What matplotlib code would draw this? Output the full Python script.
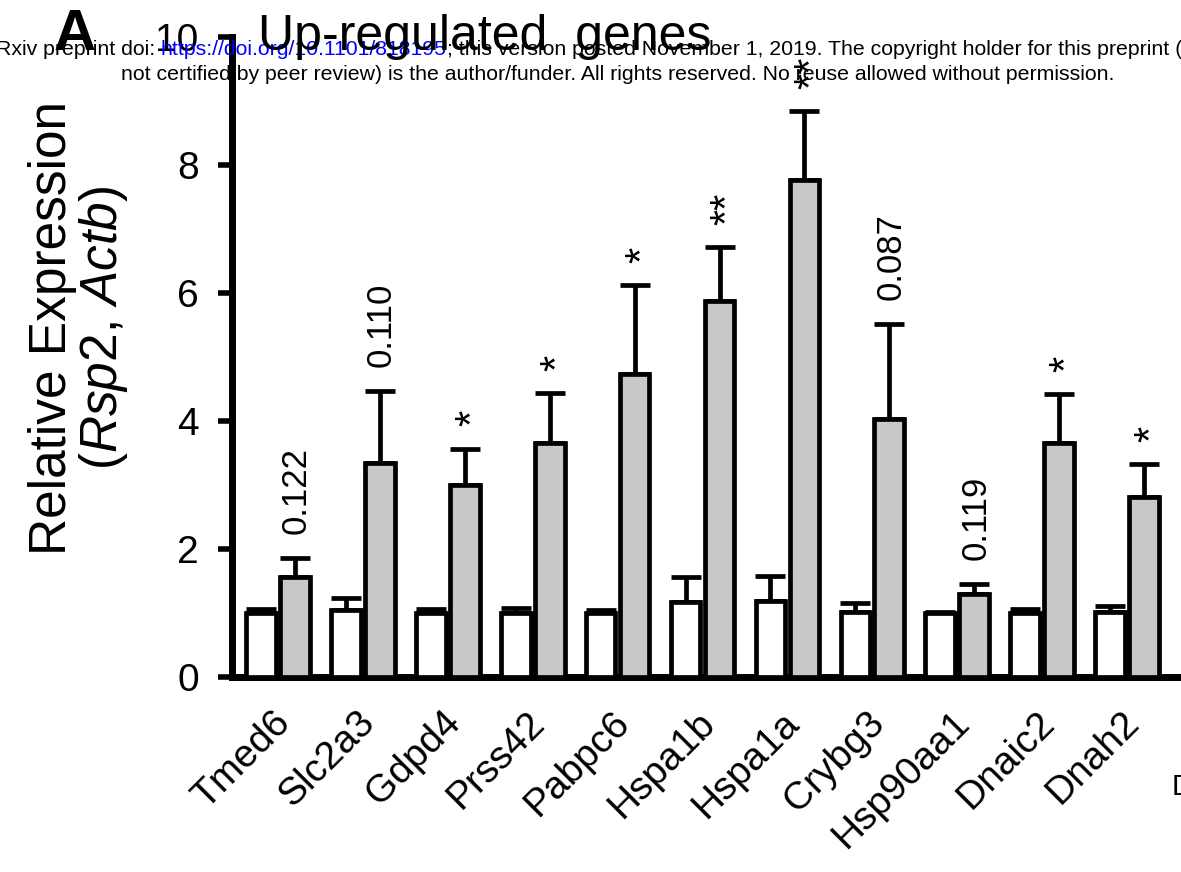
import matplotlib
matplotlib.use("Agg")
import matplotlib.pyplot as plt
import numpy as np

plt.rcParams['font.family'] = ['Liberation Sans', 'DejaVu Sans']
plt.rcParams['mathtext.fontset'] = 'custom'
plt.rcParams['mathtext.rm'] = 'Liberation Sans'
plt.rcParams['mathtext.it'] = 'Liberation Sans:italic'

# values
genes = ['Tmed6', 'Slc2a3', 'Gdpd4', 'Prss42', 'Pabpc6', 'Hspa1b',
         'Hspa1a', 'Crybg3', 'Hsp90aa1', 'Dnaic2', 'Dnah2']
ctrl = [1.00, 1.05, 1.00, 1.00, 1.00, 1.17, 1.18, 1.02, 1.00, 1.00, 1.01]
ctrl_err = [0.07, 0.18, 0.07, 0.08, 0.05, 0.40, 0.40, 0.13, 0.01, 0.07, 0.10]
treat = [1.57, 3.35, 3.00, 3.65, 4.74, 5.87, 7.76, 4.03, 1.30, 3.66, 2.81]
treat_err = [0.29, 1.12, 0.57, 0.78, 1.38, 0.85, 1.08, 1.49, 0.16, 0.76, 0.52]
sig = ['0.122', '0.110', '*', '*', '*', '**', '**', '0.087', '0.119', '*', '*']

W, H = 1181, 872
fig = plt.figure(figsize=(W / 100, H / 100), dpi=100)
ax = fig.add_axes([232 / W, 195 / H, 1 - 232 / W + 0.01, 640 / H])

x = np.arange(len(genes))
bw = 0.35
off = 0.2
lw = 3.4

ax.bar(x - off, ctrl, bw, color='white', edgecolor='black', linewidth=lw, zorder=3)
ax.bar(x + off, treat, bw, color='#c8c8c8', edgecolor='black', linewidth=lw, zorder=3)

for xs, vals, errs in [(x - off, ctrl, ctrl_err), (x + off, treat, treat_err)]:
    ax.errorbar(xs, vals, yerr=[np.zeros(len(errs)), errs], fmt='none',
                ecolor='black', elinewidth=3.4, capsize=11, capthick=3.4,
                zorder=2)

# significance labels above the treated bars
for i, s in enumerate(sig):
    top = treat[i] + treat_err[i]
    if s.startswith('*'):
        ax.annotate(s, xy=(i + off, top), xytext=(6, 16), textcoords='offset points',
                    rotation=90, ha='center', va='bottom', fontsize=30)
    else:
        ax.annotate(s, xy=(i + off, top), xytext=(1, 17), textcoords='offset points',
                    rotation=90, ha='center', va='bottom', fontsize=25)

# gene names
for i, g in enumerate(genes):
    ax.annotate(g, xy=(i, 0), xycoords=('data', 'axes fraction'),
                xytext=(10, -34), textcoords='offset points',
                rotation=45, rotation_mode='anchor', ha='right', va='baseline',
                fontsize=28, annotation_clip=False)

ax.set_xlim(-0.541, (W - 278) / 85.0 + 0.15)
ax.set_ylim(0, 10)
ax.set_xticks([])
ax.set_yticks([0, 2, 4, 6, 8, 10])
ax.tick_params(axis='y', direction='out', length=10, width=4, labelsize=28, pad=14)
for side in ['top', 'right']:
    ax.spines[side].set_visible(False)
for side in ['left', 'bottom']:
    ax.spines[side].set_linewidth(5)

# y label in two lines
fig.text(53 / W, 1 - 328 / H, 'Relative Expression', rotation=90,
         ha='center', va='center', fontsize=37)
fig.text(103 / W, 1 - 328 / H, r'($\mathit{Rsp2}$, $\mathit{Actb}$)', rotation=90,
         ha='center', va='center', fontsize=37)

fig.text(258 / W, 1 - 50 / H, 'Up-regulated  genes', fontsize=36, va='baseline')
fig.text(54 / W, 1 - 50 / H, 'A', fontsize=42, fontweight='bold', va='baseline')
fig.text(1172 / W, 1 - 795 / H, 'D', fontsize=21, va='baseline')

# preprint watermark overlaid on the figure
wm = 15.3
t1 = fig.text(-4 / W, 1 - 55 / H, 'Rxiv preprint doi: ', fontsize=wm, va='baseline')
t2 = ax.annotate('https://doi.org/10.1101/818195', xy=(1, 0), xycoords=t1,
                 fontsize=wm, color='#0000ff', va='bottom', annotation_clip=False)
ax.annotate('; this version posted November 1, 2019. The copyright holder for this preprint (which was',
            xy=(1, 0), xycoords=t2, fontsize=wm, va='bottom', annotation_clip=False)
fig.text(618 / W, 1 - 80 / H,
         'not certified by peer review) is the author/funder. All rights reserved. No reuse allowed without permission.',
         fontsize=wm, ha='center', va='baseline')

fig.savefig('out.png', dpi=100)
